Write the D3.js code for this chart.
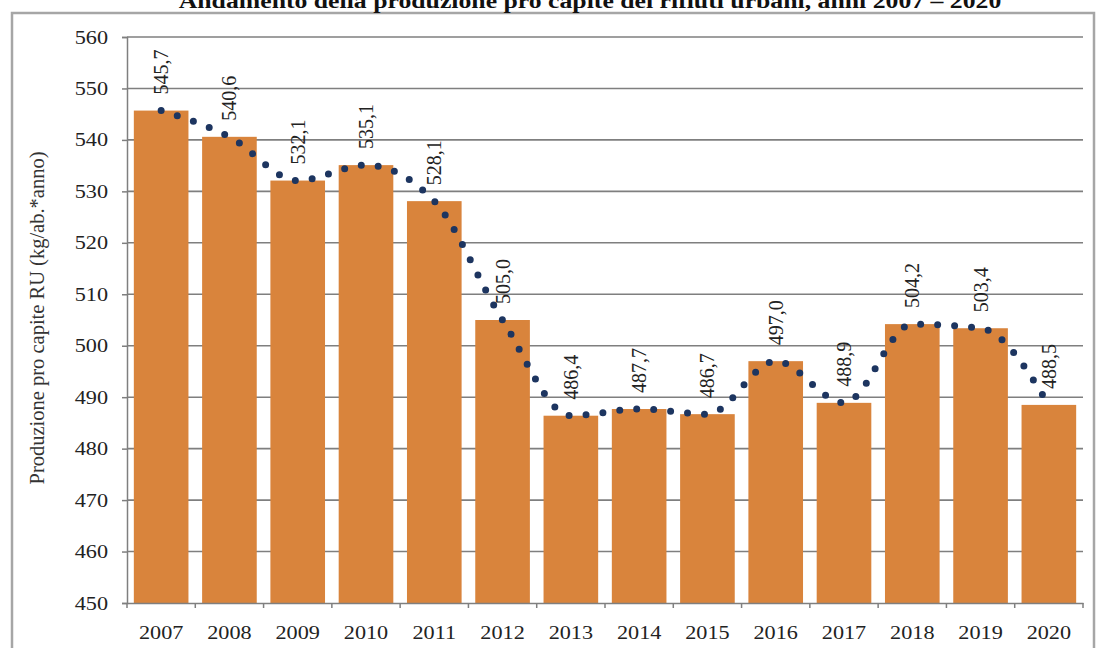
<!DOCTYPE html>
<html><head><meta charset="utf-8">
<script src="https://cdn.jsdelivr.net/npm/d3@7/dist/d3.min.js"></script>
<style>html,body{margin:0;padding:0;background:#fff;}svg{display:block;}</style>
</head><body>
<svg id="c" width="1096" height="648"></svg>
<script>
const years = ["2007","2008","2009","2010","2011","2012","2013","2014","2015","2016","2017","2018","2019","2020"];
const values = [545.7,540.6,532.1,535.1,528.1,505.0,486.4,487.7,486.7,497.0,488.9,504.2,503.4,488.5];
const yTicks = [450,460,470,480,490,500,510,520,530,540,550,560];
const title = "Andamento della produzione pro capite dei rifiuti urbani, anni 2007 – 2020";
const yTitle = "Produzione pro capite RU (kg/ab.*anno)";

const SERIF = "'Liberation Serif', 'Times New Roman', serif";
const svg = d3.select("#c");
const m = {left:127, right:1083, top:37, bottom:603};
const x = d3.scaleBand().domain(years).range([m.left, m.right]).paddingInner(0.2).paddingOuter(0.1);
const y = d3.scaleLinear().domain([450,560]).range([m.bottom, m.top]);
const SX = 1.17;

// frame
svg.append("rect").attr("x",12).attr("y",13).attr("width",1082).attr("height",640)
  .attr("fill","#fff").attr("stroke","#a6a6a6").attr("stroke-width",2.5);

// title (top partly cut off as in reference)
svg.append("text").attr("transform",`translate(590,8) scale(${SX},1)`).attr("text-anchor","middle")
  .attr("font-family",SERIF).attr("font-weight","bold").attr("font-size",22)
  .attr("fill","#111").text(title);

// gridlines
svg.append("g").selectAll("line").data(yTicks.filter(d=>d>450)).join("line")
  .attr("x1",m.left).attr("x2",m.right).attr("y1",d=>y(d)).attr("y2",d=>y(d))
  .attr("stroke","#7f7f7f").attr("stroke-width",1.6);

// bars
svg.append("g").selectAll("rect").data(values).join("rect")
  .attr("x",(d,i)=>x(years[i])).attr("width",x.bandwidth())
  .attr("y",d=>y(d)).attr("height",d=>y(450)-y(d))
  .attr("fill","#d9843c");

// y axis
const yAxis = d3.axisLeft(y).tickValues(yTicks).tickSize(5).tickFormat(d3.format("d"));
const gy = svg.append("g").attr("transform",`translate(${m.left},0)`).call(yAxis);
gy.select(".domain").attr("stroke","#7f7f7f").attr("stroke-width",1.5);
gy.selectAll(".tick line").attr("stroke","#7f7f7f").attr("stroke-width",1.5);
gy.selectAll(".tick text").attr("x",null).attr("dy",null)
  .attr("transform",`translate(-19,6) scale(${SX},1)`)
  .attr("font-family",SERIF).attr("font-size",19).attr("fill","#222");

// x axis
const xAxis = d3.axisBottom(x).tickSize(0);
const gx = svg.append("g").attr("transform",`translate(0,${m.bottom})`).call(xAxis);
gx.select(".domain").attr("stroke","#7f7f7f").attr("stroke-width",1.5);
gx.selectAll(".tick text").attr("y",null).attr("dy",null)
  .attr("transform",`translate(0,36) scale(${SX},1)`)
  .attr("font-family",SERIF).attr("font-size",19).attr("fill","#222");
// boundary ticks
const bounds = d3.range(years.length+1).map(i=>m.left + i*(m.right-m.left)/years.length);
svg.append("g").selectAll("line").data(bounds).join("line")
  .attr("x1",d=>d).attr("x2",d=>d).attr("y1",m.bottom).attr("y2",m.bottom+5)
  .attr("stroke","#7f7f7f").attr("stroke-width",1.5);

// smooth dotted line
const line = d3.line().x((d,i)=>x(years[i])+x.bandwidth()/2).y(d=>y(d)).curve(d3.curveMonotoneX);
svg.append("path").attr("d",line(values)).attr("fill","none")
  .attr("stroke","#1d3560").attr("stroke-width",7).attr("stroke-linecap","round")
  .attr("stroke-dasharray","0,17");

// data labels
const fmt = d => d.toFixed(1).replace(".",",");
svg.append("g").selectAll("text").data(values).join("text")
  .attr("transform",(d,i)=>`translate(${x(years[i])+x.bandwidth()/2+7},${y(d)-16}) rotate(-90)`)
  .attr("font-family",SERIF).attr("font-size",20).attr("fill","#222")
  .text(fmt);

// y title
svg.append("text").attr("transform","translate(44,318) rotate(-90)").attr("text-anchor","middle")
  .attr("font-family",SERIF).attr("font-size",20.5).attr("fill","#333")
  .text(yTitle);
</script>
</body></html>
